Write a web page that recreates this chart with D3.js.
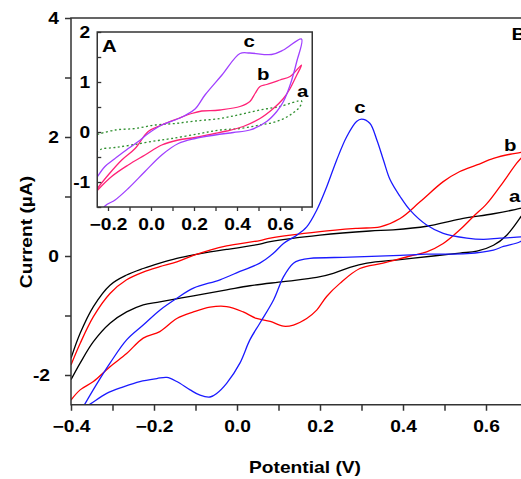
<!DOCTYPE html>
<html>
<head>
<meta charset="utf-8">
<script src="https://cdn.jsdelivr.net/npm/d3@7"></script>
<style>
body { margin: 0; background: #fff; }
text { font-family: "Liberation Sans", Arial, sans-serif; font-weight: bold; fill: #000; }
</style>
</head>
<body>
<script>
'use strict'
// panel B, [potential (V), current (uA)], forward scan then return scan
const scanA = [
	[-0.4,-1.72],[-0.378,-1.30],[-0.346,-0.85],[-0.306,-0.49],[-0.266,-0.32],[-0.226,-0.21],[-0.186,-0.12],
	[-0.145,-0.04],[-0.105,0.02],[-0.065,0.07],[-0.025,0.11],[0.055,0.20],[0.08,0.24],[0.2,0.35],[0.32,0.42],
	[0.376,0.44],[0.457,0.50],[0.537,0.62],[0.618,0.71],[0.682,0.80],[0.7,0.84],
	[0.684,0.66],[0.65,0.35],[0.618,0.18],[0.578,0.08],[0.537,0.05],[0.473,0.0],[0.393,-0.06],[0.313,-0.12],
	[0.272,-0.19],[0.232,-0.29],[0.192,-0.36],[0.112,-0.43],[0.031,-0.50],[-0.025,-0.57],[-0.105,-0.67],
	[-0.186,-0.77],[-0.226,-0.82],[-0.266,-0.94],[-0.306,-1.13],[-0.346,-1.44],[-0.378,-1.80],[-0.4,-2.08]
];
const scanB = [
	[-0.4,-1.83],[-0.378,-1.47],[-0.346,-1.02],[-0.306,-0.63],[-0.266,-0.40],[-0.226,-0.27],[-0.186,-0.18],
	[-0.145,-0.10],[-0.105,0.01],[-0.065,0.10],[-0.025,0.17],[0.055,0.26],[0.08,0.30],[0.2,0.41],[0.29,0.465],
	[0.345,0.49],[0.393,0.63],[0.441,0.91],[0.497,1.25],[0.537,1.42],[0.578,1.53],[0.618,1.64],[0.658,1.71],
	[0.684,1.74],[0.7,1.78],
	[0.674,1.56],[0.634,1.17],[0.602,0.88],[0.569,0.66],[0.537,0.44],[0.497,0.21],[0.457,0.07],[0.417,0.0],
	[0.352,-0.12],[0.296,-0.21],[0.248,-0.46],[0.216,-0.68],[0.192,-0.91],[0.168,-1.05],[0.136,-1.16],[0.112,-1.18],
	[0.08,-1.10],[0.047,-1.05],[0.015,-0.94],[-0.025,-0.85],[-0.065,-0.86],[-0.105,-0.94],[-0.145,-1.05],
	[-0.186,-1.27],[-0.226,-1.38],[-0.266,-1.64],[-0.306,-1.86],[-0.346,-2.11],[-0.378,-2.25],[-0.4,-2.42]
];
const scanC = [
	[-0.4,-2.9],[-0.366,-2.48],[-0.330,-2.06],[-0.306,-1.80],[-0.266,-1.41],[-0.226,-1.16],[-0.186,-0.91],
	[-0.145,-0.71],[-0.105,-0.54],[-0.041,-0.40],[0.007,-0.26],[0.055,-0.12],[0.087,0.04],[0.112,0.21],
	[0.144,0.35],[0.168,0.49],[0.192,0.77],[0.216,1.16],[0.24,1.61],[0.264,2.00],[0.288,2.26],[0.30,2.30],
	[0.32,2.23],[0.337,1.95],[0.353,1.61],[0.369,1.28],[0.393,1.00],[0.417,0.77],[0.457,0.52],[0.497,0.38],
	[0.554,0.30],[0.594,0.28],[0.634,0.30],[0.684,0.32],[0.7,0.33],
	[0.682,0.24],[0.642,0.16],[0.618,0.10],[0.554,0.04],[0.457,0.03],[0.393,0.01],[0.272,-0.02],[0.176,-0.04],
	[0.152,-0.07],[0.136,-0.12],[0.112,-0.35],[0.088,-0.74],[0.055,-1.13],[0.031,-1.41],[0.007,-1.80],
	[-0.025,-2.14],[-0.049,-2.31],[-0.065,-2.37],[-0.089,-2.34],[-0.113,-2.25],[-0.145,-2.11],[-0.169,-2.04],
	[-0.193,-2.06],[-0.234,-2.11],[-0.274,-2.20],[-0.314,-2.31],[-0.354,-2.49],[-0.4,-2.7]
];
// inset A
const insetA = [
	[-0.25,-0.05],[-0.167,0.04],[-0.074,0.07],[0.019,0.14],[0.112,0.17],[0.205,0.22],[0.321,0.27],[0.414,0.35],
	[0.507,0.44],[0.6,0.51],[0.70,0.62],
	[0.693,0.51],[0.647,0.34],[0.585,0.21],[0.507,0.14],[0.414,0.07],[0.321,0.04],[0.228,-0.03],[0.096,-0.13],
	[0.003,-0.19],[-0.09,-0.26],[-0.167,-0.31],[-0.229,-0.34],[-0.25,-0.39]
];
const insetB = [
	[-0.25,-1.13],[-0.199,-0.86],[-0.136,-0.56],[-0.074,-0.33],[-0.013,0.01],[0.05,0.14],[0.127,0.27],[0.189,0.37],
	[0.236,0.42],[0.298,0.43],[0.321,0.44],[0.414,0.51],[0.46,0.61],[0.484,0.77],[0.507,0.91],[0.538,0.95],
	[0.6,1.04],[0.647,1.11],[0.70,1.34],
	[0.678,1.14],[0.647,0.87],[0.616,0.67],[0.569,0.47],[0.507,0.27],[0.429,0.11],[0.352,0.02],[0.298,-0.03],
	[0.205,-0.11],[0.127,-0.16],[0.05,-0.26],[-0.028,-0.46],[-0.106,-0.66],[-0.183,-0.89],[-0.25,-1.17]
];
const insetC = [
	[-0.25,-0.90],[-0.214,-0.69],[-0.167,-0.53],[-0.106,-0.33],[-0.059,-0.19],[-0.013,-0.03],[0.05,0.14],
	[0.112,0.24],[0.158,0.33],[0.205,0.46],[0.251,0.74],[0.33,1.14],[0.414,1.57],[0.46,1.58],[0.561,1.55],
	[0.616,1.64],[0.70,1.86],
	[0.678,1.41],[0.647,0.94],[0.616,0.61],[0.585,0.41],[0.538,0.21],[0.46,0.04],[0.383,-0.01],[0.298,-0.06],
	[0.205,-0.13],[0.127,-0.23],[0.05,-0.46],[-0.028,-0.79],[-0.106,-1.13],[-0.167,-1.36],[-0.214,-1.48],[-0.25,-1.75]
];

const mainXLabels = [-0.4, -0.2, 0.0, 0.2, 0.4, 0.6];
const mainYLabels = [-2, 0, 2, 4];
const insetXLabels = [-0.2, 0.0, 0.2, 0.4, 0.6];
const insetYLabels = [-1, 0, 1, 2];

const w = 521;
const h = 479;
const sx = 1.2; // the figure's lettering is stretched sideways

var svg = d3.select("body")
	.append("svg")
	.attr("width", w)
	.attr("height", h);

svg.append("rect").attr("width", w).attr("height", h).attr("fill", "#fff");

function putText(x, y, str, size, anchor, rot) {
	return svg.append("text")
		.attr("transform", "translate(" + x + "," + y + ")" + (rot ? " rotate(" + rot + ")" : "") + " scale(" + sx + ",1)")
		.attr("text-anchor", anchor || "start")
		.style("font-size", size + "px")
		.text(str);
}

const fmtX = d3.format(".1f");
const fmtY = (d) => d < 0 ? "-" + Math.abs(d) : "" + d;
const isIn = (arr, d) => arr.some((v) => Math.abs(v - d) < 1e-6);

// ---------- main panel
var xScale = d3.scaleLinear().domain([-0.4, 0.7]).range([71, 527.5]);
var yScale = d3.scaleLinear().domain([-2.5, 4]).range([404.75, 18]);

svg.append("clipPath").attr("id", "clipMain")
	.append("rect")
	.attr("x", 71).attr("y", 18)
	.attr("width", 456.5).attr("height", 386.75);

var line = d3.line()
	.x((d) => xScale(d[0]))
	.y((d) => yScale(d[1]))
	.curve(d3.curveCatmullRom.alpha(0.5));

var mainG = svg.append("g").attr("clip-path", "url(#clipMain)");
[[scanA, "#000000"], [scanB, "#ff0000"], [scanC, "#1a1aff"]].forEach((s) => {
	mainG.append("path")
		.datum(s[0])
		.attr("d", line)
		.attr("fill", "none")
		.attr("stroke", s[1])
		.attr("stroke-width", 1.3);
});

var xAxis = d3.axisBottom(xScale)
	.tickValues(d3.range(-4, 8).map((i) => i / 10))
	.tickSize(6)
	.tickPadding(10)
	.tickFormat((d) => isIn(mainXLabels, d) ? fmtX(d) : "");

var yAxis = d3.axisLeft(yScale)
	.tickValues(d3.range(-2, 5))
	.tickSize(6)
	.tickPadding(6)
	.tickFormat((d) => isIn(mainYLabels, d) ? fmtY(d) : "");

var gx = svg.append("g")
	.attr("id", "x-axis")
	.attr("transform", "translate(0," + yScale(-2.5) + ")")
	.call(xAxis);
var gy = svg.append("g")
	.attr("id", "y-axis")
	.attr("transform", "translate(" + xScale(-0.4) + ",0)")
	.call(yAxis);

[gx, gy].forEach((g) => {
	g.select(".domain").remove();
	g.selectAll(".tick line").attr("stroke", "#333").attr("stroke-width", 1.5);
	g.selectAll(".tick text").style("font-size", "16px").attr("font-family", null);
});
gx.selectAll(".tick text").attr("transform", "scale(" + sx + ",1)");
gy.selectAll(".tick text")
	.attr("x", (d) => (d < 0 ? -21 : -12) / sx)
	.attr("transform", "scale(" + sx + ",1)");

svg.append("rect")
	.attr("x", 71).attr("y", 18)
	.attr("width", 456.5).attr("height", 386.75)
	.attr("fill", "none")
	.attr("stroke", "#333")
	.attr("stroke-width", 1.5);

putText(305, 473, "Potential (V)", 16, "middle");
putText(32, 232, "Current (\u00b5A)", 16, "middle", -90);
putText(360, 113, "c", 17, "middle");
putText(504, 150.5, "b", 17, "start");
putText(509, 201.5, "a", 17, "start");
putText(511.5, 40, "B", 17, "start");

// ---------- inset A
var xIn = d3.scaleLinear().domain([-0.25, 0.75]).range([97.25, 312.25]);
var yIn = d3.scaleLinear().domain([-1.5, 2]).range([207, 32]);

svg.append("rect")
	.attr("x", 97.25).attr("y", 32)
	.attr("width", 215).attr("height", 175)
	.attr("fill", "#fff");

svg.append("clipPath").attr("id", "clipIn")
	.append("rect")
	.attr("x", 97.25).attr("y", 32)
	.attr("width", 215).attr("height", 175);

var lineIn = d3.line()
	.x((d) => xIn(d[0]))
	.y((d) => yIn(d[1]))
	.curve(d3.curveCatmullRom.alpha(0.5));

var inG = svg.append("g").attr("clip-path", "url(#clipIn)");
inG.append("path")
	.datum(insetA)
	.attr("d", lineIn)
	.attr("fill", "none")
	.attr("stroke", "#2f8f2f")
	.attr("stroke-width", 1.3)
	.attr("stroke-dasharray", "2,2.5");
[[insetB, "#ff2277"], [insetC, "#a040ff"]].forEach((s) => {
	inG.append("path")
		.datum(s[0])
		.attr("d", lineIn)
		.attr("fill", "none")
		.attr("stroke", s[1])
		.attr("stroke-width", 1.3);
});

var xAxisIn = d3.axisBottom(xIn)
	.tickValues(d3.range(-2, 8).map((i) => i / 10))
	.tickSize(4)
	.tickPadding(8)
	.tickFormat((d) => isIn(insetXLabels, d) ? fmtX(d) : "");
var yAxisIn = d3.axisLeft(yIn)
	.tickValues(d3.range(-3, 5).map((i) => i / 2))
	.tickSize(-4)
	.tickPadding(7)
	.tickFormat((d) => isIn(insetYLabels, d) ? fmtY(d) : "");

var gxIn = svg.append("g")
	.attr("transform", "translate(0," + yIn(-1.5) + ")")
	.call(xAxisIn);
var gyIn = svg.append("g")
	.attr("transform", "translate(" + xIn(-0.25) + ",0)")
	.call(yAxisIn);

[gxIn, gyIn].forEach((g) => {
	g.select(".domain").remove();
	g.selectAll(".tick line").attr("stroke", "#333").attr("stroke-width", 1.3);
	g.selectAll(".tick text").style("font-size", "16px").attr("font-family", null);
});
gxIn.selectAll(".tick text").attr("transform", "scale(" + sx + ",1)");
gyIn.selectAll(".tick text")
	.attr("x", -7 / sx)
	.attr("transform", "scale(" + sx + ",1)");

svg.append("rect")
	.attr("x", 97.25).attr("y", 32)
	.attr("width", 215).attr("height", 175)
	.attr("fill", "none")
	.attr("stroke", "#333")
	.attr("stroke-width", 1.5);

putText(102, 51.5, "A", 17, "start");
putText(243.5, 47.3, "c", 17, "start");
putText(257, 80, "b", 17, "start");
putText(297, 96.7, "a", 17, "start");
</script>
</body>
</html>
